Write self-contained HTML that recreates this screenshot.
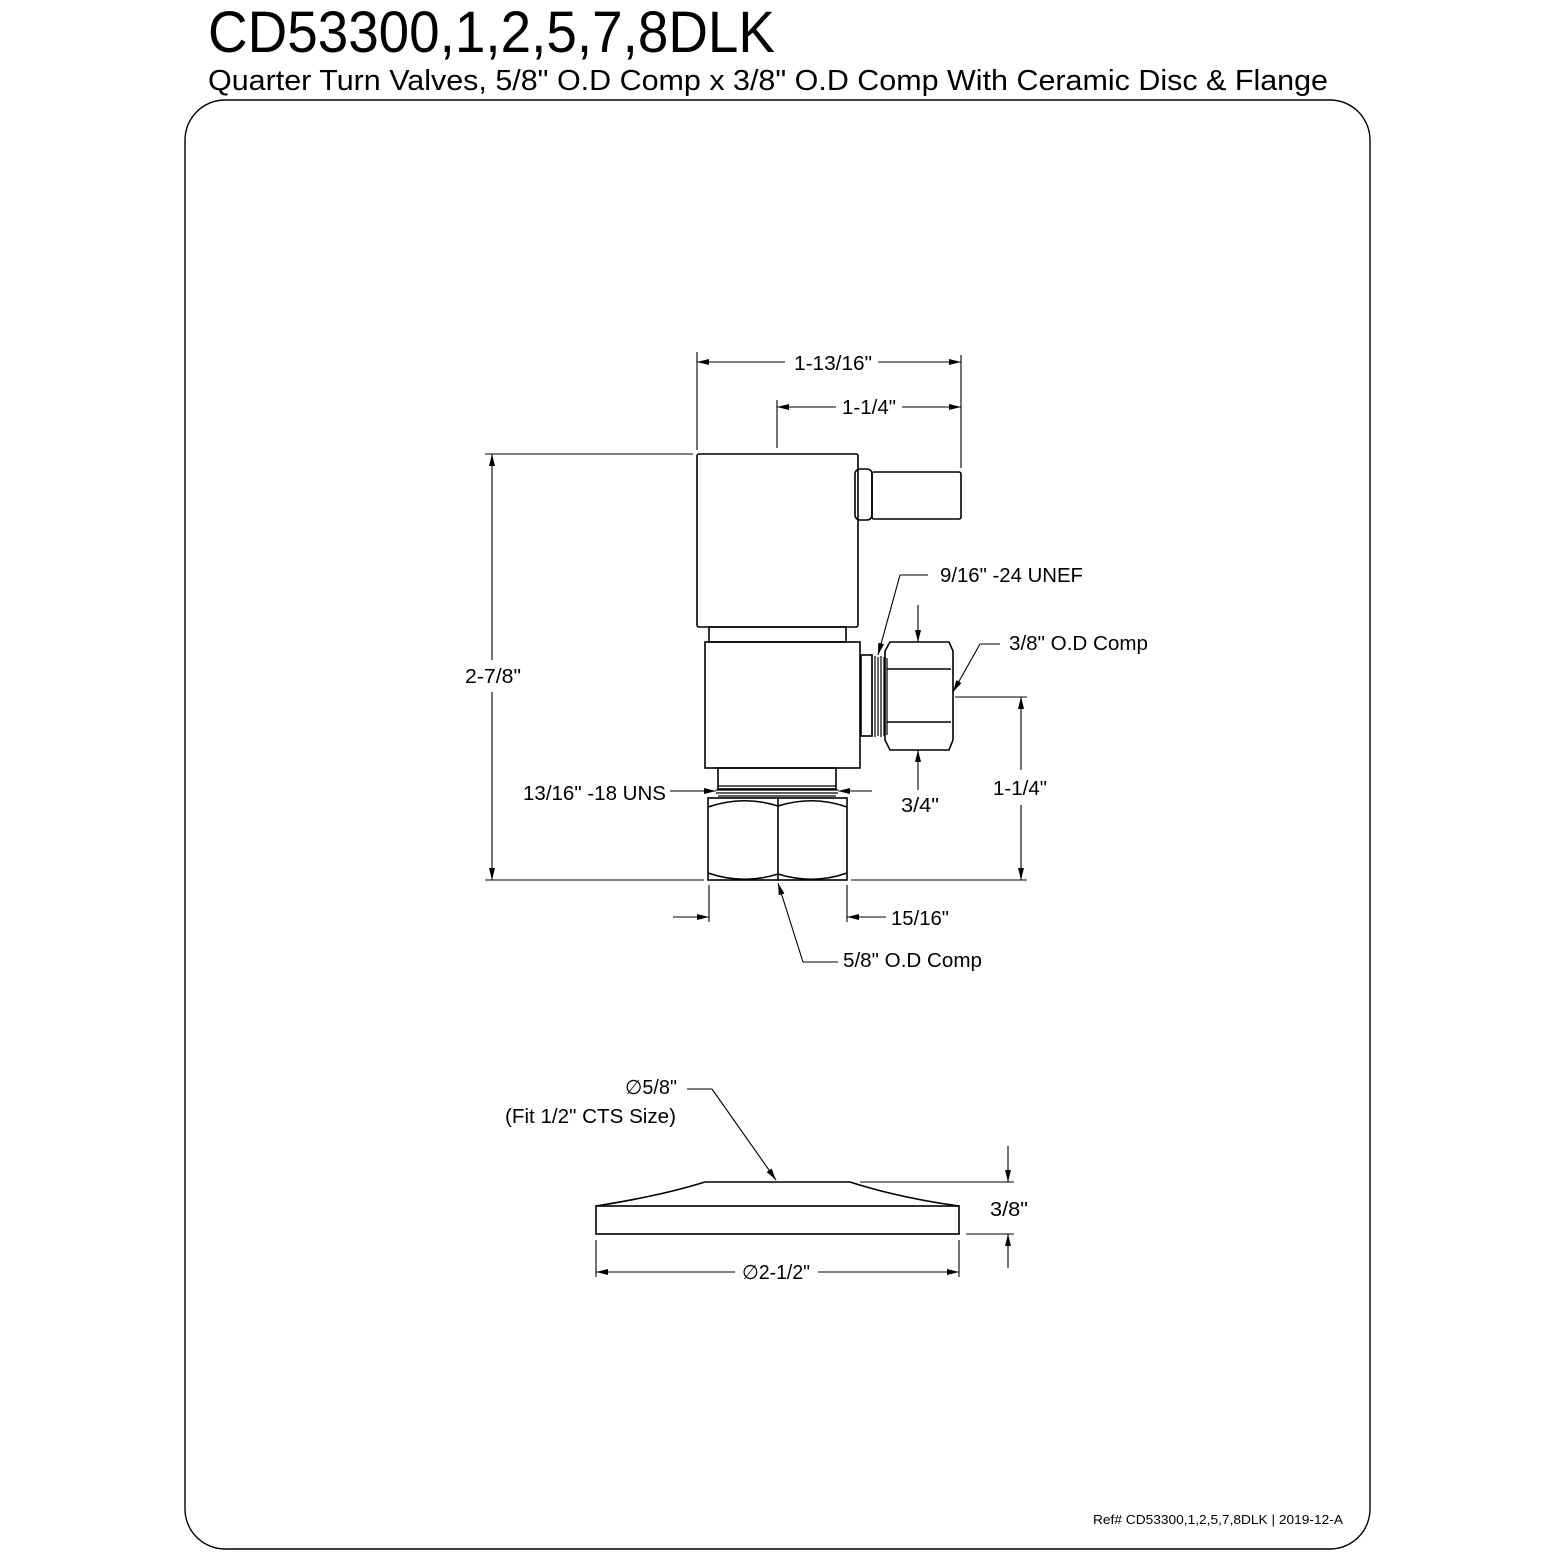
<!DOCTYPE html>
<html><head><meta charset="utf-8"><style>html,body{margin:0;padding:0;background:#fff}svg{display:block}</style></head><body>
<svg width="1552" height="1552" viewBox="0 0 1552 1552" xmlns="http://www.w3.org/2000/svg" font-family="Liberation Sans, Arial, sans-serif" fill="none" stroke="#000" stroke-width="1.6">
<defs>
<marker id="a" viewBox="0 0 12 6" refX="12" refY="3" markerWidth="12" markerHeight="6" orient="auto-start-reverse" markerUnits="userSpaceOnUse"><path d="M0,0L12,3L0,6z" fill="#000" stroke="none"/></marker>
</defs>
<g fill="#000" stroke="none">
<text x="208" y="52" font-size="58" textLength="567" lengthAdjust="spacingAndGlyphs">CD53300,1,2,5,7,8DLK</text>
<text x="208" y="90" font-size="29" textLength="1120" lengthAdjust="spacingAndGlyphs">Quarter Turn Valves, 5/8" O.D Comp x 3/8" O.D Comp With Ceramic Disc &amp; Flange</text>
<g font-size="20">
<text x="794" y="370" textLength="78" lengthAdjust="spacingAndGlyphs">1-13/16"</text>
<text x="842" y="414" textLength="54" lengthAdjust="spacingAndGlyphs">1-1/4"</text>
<text x="940" y="582" textLength="143" lengthAdjust="spacingAndGlyphs">9/16" -24 UNEF</text>
<text x="1009" y="650" textLength="139" lengthAdjust="spacingAndGlyphs">3/8" O.D Comp</text>
<text x="465" y="683" textLength="56" lengthAdjust="spacingAndGlyphs">2-7/8"</text>
<text x="993" y="795" textLength="54" lengthAdjust="spacingAndGlyphs">1-1/4"</text>
<text x="523" y="800" textLength="143" lengthAdjust="spacingAndGlyphs">13/16" -18 UNS</text>
<text x="901" y="812" textLength="38" lengthAdjust="spacingAndGlyphs">3/4"</text>
<text x="891" y="925" textLength="58" lengthAdjust="spacingAndGlyphs">15/16"</text>
<text x="843" y="967" textLength="139" lengthAdjust="spacingAndGlyphs">5/8" O.D Comp</text>
<text x="625" y="1094" textLength="52" lengthAdjust="spacingAndGlyphs">∅5/8"</text>
<text x="505" y="1123" textLength="171" lengthAdjust="spacingAndGlyphs">(Fit 1/2" CTS Size)</text>
<text x="990" y="1216" textLength="38" lengthAdjust="spacingAndGlyphs">3/8"</text>
<text x="742" y="1279" textLength="68" lengthAdjust="spacingAndGlyphs">∅2-1/2"</text>
</g>
<text x="1093" y="1524" font-size="13" textLength="250" lengthAdjust="spacingAndGlyphs">Ref# CD53300,1,2,5,7,8DLK | 2019-12-A</text>
</g>
<rect x="185" y="100" width="1185" height="1449" rx="40" stroke-width="1.4"/>
<rect x="697" y="454" width="161" height="173" rx="2"/>
<rect x="855" y="469" width="17" height="51" rx="5"/>
<rect x="872" y="472" width="89" height="47" rx="2"/>
<rect x="709" y="627" width="137" height="15"/>
<rect x="705" y="642" width="155" height="126"/>
<rect x="861" y="655" width="11" height="81"/>
<g stroke-width="1.2"><path d="M872,658V735M875,656V737M878,657V736M881,656V737M884,657V736M887,658V735"/></g>
<path d="M890,642H949L953,651V740L949,750H890L885,740V651Z"/>
<path d="M887,669H951M887,722H951"/>
<rect x="718" y="768" width="118" height="21"/>
<g stroke-width="1.2"><path d="M718,786H836M716,790H838M716,793H838M718,796H836"/></g>
<rect x="708" y="798" width="139" height="82"/>
<path d="M778,798V880M708,807Q743,795 778,806Q813,795 847,807M708,873Q743,885 778,874Q813,885 847,873"/>
<g stroke-width="1.1">
<path d="M697,352V450M777,400V448M961,355V468M485,454H693M485,880H704M851,880H1027M955,697H1027M709,885V922M847,885V922M900,575H928"/>
<line x1="785" y1="362" x2="697" y2="362" marker-end="url(#a)"/>
<line x1="878" y1="362" x2="961" y2="362" marker-end="url(#a)"/>
<line x1="836" y1="407" x2="777" y2="407" marker-end="url(#a)"/>
<line x1="902" y1="407" x2="961" y2="407" marker-end="url(#a)"/>
<line x1="492" y1="660" x2="492" y2="454" marker-end="url(#a)"/>
<line x1="492" y1="692" x2="492" y2="880" marker-end="url(#a)"/>
<line x1="1021" y1="770" x2="1021" y2="697" marker-end="url(#a)"/>
<line x1="1021" y1="805" x2="1021" y2="880" marker-end="url(#a)"/>
<line x1="900" y1="575" x2="878" y2="655" marker-end="url(#a)"/>
<line x1="918" y1="605" x2="918" y2="642" marker-end="url(#a)"/>
<line x1="918" y1="790" x2="918" y2="750" marker-end="url(#a)"/>
<polyline points="1000,644 980,644"/>
<line x1="980" y1="644" x2="953" y2="692" marker-end="url(#a)"/>
<line x1="670" y1="791" x2="716" y2="791" marker-end="url(#a)"/>
<line x1="872" y1="791" x2="838" y2="791" marker-end="url(#a)"/>
<line x1="673" y1="917" x2="709" y2="917" marker-end="url(#a)"/>
<line x1="886" y1="917" x2="847" y2="917" marker-end="url(#a)"/>
<polyline points="838,962 803,962"/>
<line x1="803" y1="962" x2="778" y2="883" marker-end="url(#a)"/>
<polyline points="687,1089 712,1089"/>
<line x1="712" y1="1089" x2="776" y2="1180" marker-end="url(#a)"/>
</g>
<rect x="596" y="1206" width="363" height="28"/>
<path d="M596,1206Q660,1196 705,1182H850Q900,1198 959,1206"/>
<g stroke-width="1.1">
<path d="M860,1182H1014M966,1234H1014M596,1240V1277M959,1240V1277"/>
<line x1="1008" y1="1146" x2="1008" y2="1182" marker-end="url(#a)"/>
<line x1="1008" y1="1268" x2="1008" y2="1234" marker-end="url(#a)"/>
<line x1="735" y1="1272" x2="596" y2="1272" marker-end="url(#a)"/>
<line x1="818" y1="1272" x2="959" y2="1272" marker-end="url(#a)"/>
</g>
</svg>
</body></html>
